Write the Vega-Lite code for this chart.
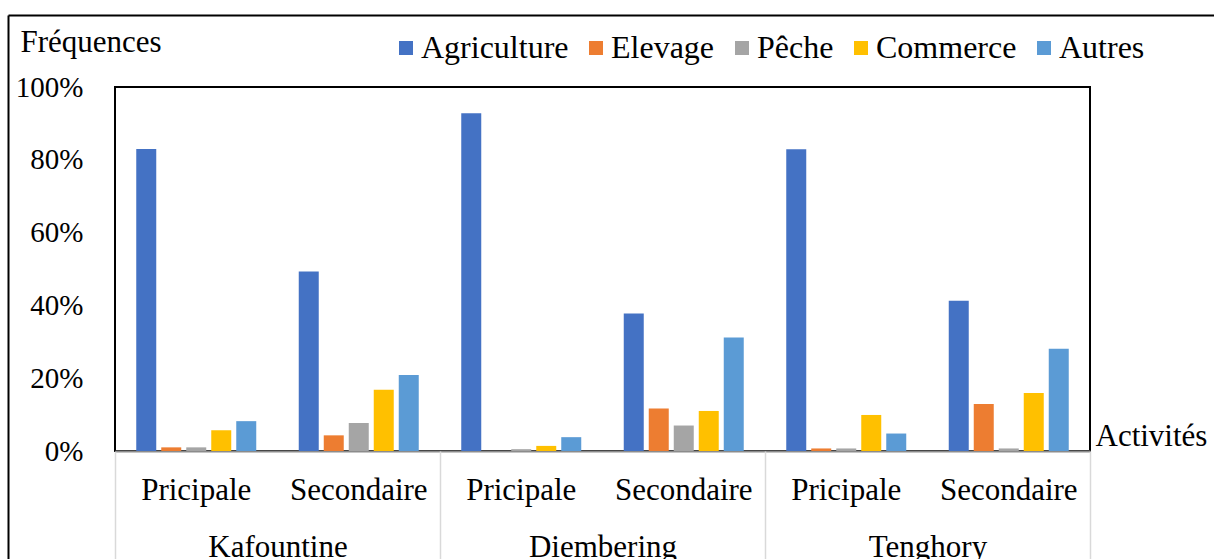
{
  "$schema": "https://vega.github.io/schema/vega-lite/v6.json",
  "autosize": {"type": "none"},
  "width": 975,
  "height": 364,
  "padding": {"left": 115, "top": 87, "right": 124, "bottom": 108},
  "background": "white",
  "config": {
    "font": "Liberation Serif",
    "view": {"stroke": "black", "strokeWidth": 2},
    "style": {
      "guide-label": {"font": "Liberation Serif", "fill": "black"},
      "guide-title": {"font": "Liberation Serif", "fill": "black"}
    },
    "axis": {
      "labelColor": "black",
      "titleColor": "black",
      "labelFont": "Liberation Serif",
      "titleFont": "Liberation Serif",
      "titleFontWeight": "normal",
      "grid": false
    },
    "legend": {
      "labelFont": "Liberation Serif",
      "labelColor": "black"
    }
  },
  "datasets": {
    "frequences": [
      {"zone": "Kafountine", "groupe": "Kafountine|Pricipale", "secteur": "Agriculture", "freq": 0.83},
      {"zone": "Kafountine", "groupe": "Kafountine|Pricipale", "secteur": "Elevage", "freq": 0.01},
      {"zone": "Kafountine", "groupe": "Kafountine|Pricipale", "secteur": "Pêche", "freq": 0.01},
      {"zone": "Kafountine", "groupe": "Kafountine|Pricipale", "secteur": "Commerce", "freq": 0.057},
      {"zone": "Kafountine", "groupe": "Kafountine|Pricipale", "secteur": "Autres", "freq": 0.082},
      {"zone": "Kafountine", "groupe": "Kafountine|Secondaire", "secteur": "Agriculture", "freq": 0.493},
      {"zone": "Kafountine", "groupe": "Kafountine|Secondaire", "secteur": "Elevage", "freq": 0.043},
      {"zone": "Kafountine", "groupe": "Kafountine|Secondaire", "secteur": "Pêche", "freq": 0.077},
      {"zone": "Kafountine", "groupe": "Kafountine|Secondaire", "secteur": "Commerce", "freq": 0.168},
      {"zone": "Kafountine", "groupe": "Kafountine|Secondaire", "secteur": "Autres", "freq": 0.209},
      {"zone": "Diembering", "groupe": "Diembering|Pricipale", "secteur": "Agriculture", "freq": 0.928},
      {"zone": "Diembering", "groupe": "Diembering|Pricipale", "secteur": "Elevage", "freq": 0.0},
      {"zone": "Diembering", "groupe": "Diembering|Pricipale", "secteur": "Pêche", "freq": 0.005},
      {"zone": "Diembering", "groupe": "Diembering|Pricipale", "secteur": "Commerce", "freq": 0.014},
      {"zone": "Diembering", "groupe": "Diembering|Pricipale", "secteur": "Autres", "freq": 0.038},
      {"zone": "Diembering", "groupe": "Diembering|Secondaire", "secteur": "Agriculture", "freq": 0.378},
      {"zone": "Diembering", "groupe": "Diembering|Secondaire", "secteur": "Elevage", "freq": 0.117},
      {"zone": "Diembering", "groupe": "Diembering|Secondaire", "secteur": "Pêche", "freq": 0.07},
      {"zone": "Diembering", "groupe": "Diembering|Secondaire", "secteur": "Commerce", "freq": 0.11},
      {"zone": "Diembering", "groupe": "Diembering|Secondaire", "secteur": "Autres", "freq": 0.312},
      {"zone": "Tenghory", "groupe": "Tenghory|Pricipale", "secteur": "Agriculture", "freq": 0.829},
      {"zone": "Tenghory", "groupe": "Tenghory|Pricipale", "secteur": "Elevage", "freq": 0.007},
      {"zone": "Tenghory", "groupe": "Tenghory|Pricipale", "secteur": "Pêche", "freq": 0.007},
      {"zone": "Tenghory", "groupe": "Tenghory|Pricipale", "secteur": "Commerce", "freq": 0.099},
      {"zone": "Tenghory", "groupe": "Tenghory|Pricipale", "secteur": "Autres", "freq": 0.048},
      {"zone": "Tenghory", "groupe": "Tenghory|Secondaire", "secteur": "Agriculture", "freq": 0.413},
      {"zone": "Tenghory", "groupe": "Tenghory|Secondaire", "secteur": "Elevage", "freq": 0.129},
      {"zone": "Tenghory", "groupe": "Tenghory|Secondaire", "secteur": "Pêche", "freq": 0.007},
      {"zone": "Tenghory", "groupe": "Tenghory|Secondaire", "secteur": "Commerce", "freq": 0.159},
      {"zone": "Tenghory", "groupe": "Tenghory|Secondaire", "secteur": "Autres", "freq": 0.281}
    ]
  },
  "data": {"name": "frequences"},
  "layer": [
    {
      "mark": {"type": "bar"},
      "encoding": {
        "x": {
          "field": "groupe",
          "type": "nominal",
          "sort": null,
          "title": "Activités",
          "scale": {"paddingInner": 0, "paddingOuter": 0},
          "axis": {
            "orient": "bottom",
            "domain": true,
            "domainColor": "#8c8c8c",
            "domainWidth": 2,
            "ticks": false,
            "tickSize": 0,
            "labelExpr": "split(datum.label, '|')[1]",
            "labelAngle": 0,
            "labelFontSize": 31,
            "labelBaseline": "alphabetic",
            "labelPadding": 48,
            "labelOverlap": false,
            "labelBound": false,
            "titleFontSize": 31,
            "titleAngle": 0,
            "titleAlign": "left",
            "titleBaseline": "alphabetic",
            "titleAnchor": "start",
            "titleX": 980,
            "titleY": -6
          }
        },
        "xOffset": {
          "field": "secteur",
          "type": "nominal",
          "sort": ["Agriculture", "Elevage", "Pêche", "Commerce", "Autres"],
          "scale": {"paddingInner": 0.2, "paddingOuter": 0.85}
        },
        "y": {
          "field": "freq",
          "type": "quantitative",
          "title": "Fréquences",
          "scale": {"domain": [0, 1], "nice": false},
          "axis": {
            "orient": "left",
            "values": [0, 0.2, 0.4, 0.6, 0.8, 1],
            "format": ".0%",
            "domain": false,
            "ticks": false,
            "tickSize": 0,
            "labelFontSize": 29,
            "labelPadding": 32,
            "labelBaseline": "middle",
            "titleFontSize": 31,
            "titleAngle": 0,
            "titleAlign": "left",
            "titleBaseline": "alphabetic",
            "titleAnchor": "start",
            "titleX": -95,
            "titleY": -36
          }
        },
        "color": {
          "field": "secteur",
          "type": "nominal",
          "sort": ["Agriculture", "Elevage", "Pêche", "Commerce", "Autres"],
          "scale": {
            "domain": ["Agriculture", "Elevage", "Pêche", "Commerce", "Autres"],
            "range": ["#4472C4", "#ED7D31", "#A5A5A5", "#FFC000", "#5B9BD5"]
          },
          "legend": {
            "orient": "none",
            "direction": "horizontal",
            "legendX": 275,
            "legendY": -55,
            "title": null,
            "padding": 0,
            "symbolType": "square",
            "symbolSize": 196,
            "symbolStrokeWidth": 0,
            "symbolOpacity": 1,
            "labelFont": "Liberation Serif",
            "labelFontSize": 32,
            "labelColor": "black",
            "labelOffset": -1,
            "columnPadding": 11,
            "labelLimit": 400
          }
        }
      }
    },
    {
      "mark": {"type": "point", "opacity": 0},
      "encoding": {
        "x": {
          "field": "zone",
          "type": "nominal",
          "sort": null,
          "title": null,
          "scale": {"paddingInner": 0, "paddingOuter": 0},
          "axis": {
            "orient": "bottom",
            "domain": false,
            "ticks": true,
            "tickBand": "extent",
            "tickSize": 108,
            "tickColor": "#d9d9d9",
            "tickWidth": 1.5,
            "labelAngle": 0,
            "labelFontSize": 31,
            "labelBaseline": "alphabetic",
            "labelPadding": -3,
            "labelOverlap": false,
            "labelBound": false
          }
        }
      }
    },
    {
      "data": {"values": [{}]},
      "mark": {"type": "point", "opacity": 0},
      "encoding": {
        "x": {
          "datum": 0,
          "type": "quantitative",
          "title": null,
          "scale": {"domain": [0, 1], "range": [-107, 1200]},
          "axis": {
            "orient": "top",
            "offset": 72,
            "domain": true,
            "domainColor": "black",
            "domainWidth": 2,
            "ticks": false,
            "labels": false,
            "grid": false
          }
        },
        "y": {
          "datum": 0,
          "type": "quantitative",
          "title": null,
          "scale": {"domain": [0, 1], "range": [700, -72]},
          "axis": {
            "orient": "left",
            "offset": 107,
            "domain": true,
            "domainColor": "black",
            "domainWidth": 2,
            "ticks": false,
            "labels": false,
            "grid": false
          }
        }
      }
    }
  ],
  "resolve": {
    "scale": {"x": "independent", "y": "independent"},
    "axis": {"x": "independent", "y": "independent"}
  }
}
